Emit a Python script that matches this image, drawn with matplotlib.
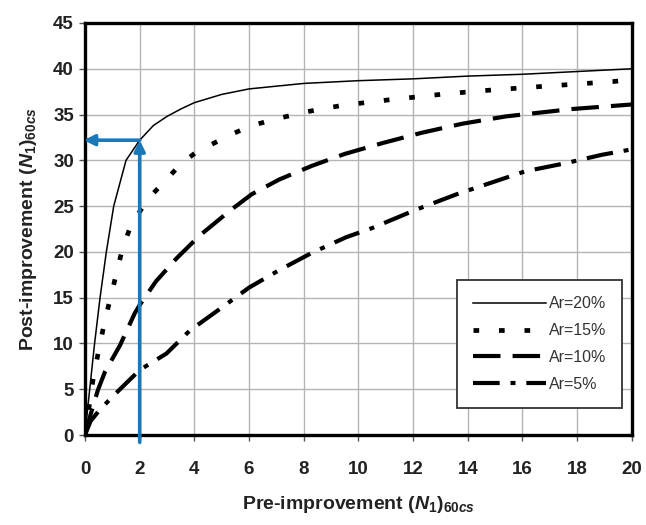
import matplotlib
matplotlib.use("Agg")
import matplotlib.pyplot as plt

plt.rcParams['font.family'] = ['Liberation Sans', 'DejaVu Sans']
plt.rcParams['mathtext.fontset'] = 'custom'
plt.rcParams['mathtext.rm'] = 'Liberation Sans:bold'
plt.rcParams['mathtext.bf'] = 'Liberation Sans:bold'
plt.rcParams['mathtext.it'] = 'Liberation Sans:italic:bold'

# ---- data ----
labels = ["Ar=20%", "Ar=15%", "Ar=10%", "Ar=5%"]

x20 = [0, 0.1, 0.35, 0.55, 0.78, 1.05, 1.5, 2.0, 2.5, 3.0, 3.5, 4.0, 5.0, 6.0, 7.0, 8.0,
       10, 12, 14, 16, 18, 20]
y20 = [0, 3, 10, 15, 20, 25, 30, 32.2, 33.8, 34.8, 35.6, 36.3, 37.2, 37.8, 38.1, 38.4,
       38.7, 38.9, 39.2, 39.4, 39.7, 40.0]

x15 = [0, 0.12, 0.3, 0.55, 0.75, 0.95, 1.34, 1.64, 2.0, 2.37, 2.98, 3.47, 4.07, 4.8, 5.4, 6.1,
       7.1, 8.1, 9.4, 11.1, 13.0, 14.5, 16.85, 19.3, 20]
y15 = [0, 2.5, 6.2, 10, 12.8, 15.2, 20.0, 22.6, 24.4, 26, 27.9, 29.5, 30.9, 32, 32.9, 33.8,
       34.6, 35.3, 36, 36.6, 37.2, 37.6, 38.1, 38.6, 38.8]

x10 = [0, 0.2, 0.47, 0.73, 1.28, 1.82, 2.0, 2.6, 3.35, 4.2, 5.3, 6.1, 7.1, 8.3, 9.5, 10.9,
       12.3, 13.8, 15.4, 17.8, 20]
y10 = [0, 2.2, 4.9, 6.9, 9.8, 13.3, 14.2, 16.8, 19.3, 21.8, 24.5, 26.3, 27.9, 29.4, 30.7, 31.9,
       33.0, 34.0, 34.8, 35.6, 36.1]

x5 = [0, 0.2, 0.55, 1.28, 2.0, 2.98, 3.83, 4.9, 6.0, 7.1, 8.3, 9.55, 10.5, 12.1, 13.6, 14.8,
      16.1, 17.6, 18.9, 20]
y5 = [0, 1.5, 2.8, 5.0, 7.1, 8.9, 11.4, 13.7, 16.1, 18, 19.9, 21.6, 22.6, 24.6, 26.3, 27.5,
      28.8, 29.7, 30.6, 31.2]

arrow_x = 2.0       # pre-improvement value marked
arrow_y = 32.2      # resulting post-improvement value
arrow_y0 = -0.8

xticks = list(range(0, 21, 2))
yticks = list(range(0, 46, 5))

# ---- figure ----
fig = plt.figure(figsize=(6.46, 5.25), dpi=100)
ax = fig.add_axes([0.1316, 0.1714, 0.8464, 0.7848])

ax.set_xlim(0, 20)
ax.set_ylim(0, 45)
ax.set_xticks(xticks)
ax.set_yticks(yticks)
ax.grid(True, color='#b4b4b4', lw=1.0)
ax.set_axisbelow(True)

for s in ax.spines.values():
    s.set_linewidth(2.4)
    s.set_color('black')

ax.tick_params(axis='both', direction='out', length=4.5, width=1.0, labelsize=13.5, color='#555555')
ax.tick_params(axis='y', pad=3.5)
ax.tick_params(axis='x', pad=14)
for t in ax.get_xticklabels() + ax.get_yticklabels():
    t.set_fontweight('bold')
    t.set_color('#222222')

ax.plot(x20, y20, color='black', lw=1.1, label=labels[0])
ax.plot(x15, y15, color='black', lw=3.4, dashes=(1.2, 4.2), dash_capstyle='butt', label=labels[1])
ax.plot(x10, y10, color='black', lw=3.0, dashes=(6.6, 2.9), dash_capstyle='butt', label=labels[2])
ax.plot(x5, y5, color='black', lw=3.0, dashes=(6.4, 2.6, 1.2, 2.6), dash_capstyle='butt', label=labels[3])

blue = '#1b78b8'
ax.annotate('', xy=(arrow_x, arrow_y), xytext=(arrow_x, arrow_y0),
            arrowprops=dict(arrowstyle='-|>', color=blue, lw=2.6, mutation_scale=16,
                            shrinkA=0, shrinkB=0),
            annotation_clip=False, zorder=5)
ax.annotate('', xy=(-0.05, arrow_y), xytext=(arrow_x, arrow_y),
            arrowprops=dict(arrowstyle='-|>', color=blue, lw=2.6, mutation_scale=16,
                            shrinkA=0, shrinkB=0),
            annotation_clip=False, zorder=5)

leg = ax.legend(loc='lower right', bbox_to_anchor=(0.982, 0.0655), borderaxespad=0,
                fontsize=11.5, handlelength=4.6, handletextpad=0.15, borderpad=1.0,
                labelspacing=0.75, fancybox=False, framealpha=1, edgecolor='#333333')
leg.get_frame().set_linewidth(1.3)
for t in leg.get_texts():
    t.set_color('#333333')

ax.set_xlabel(r'Pre-improvement $\mathit{(N_{1})}_{\mathit{60cs}}$', fontsize=14,
              fontweight='bold', color='#222222', labelpad=12)
ax.set_ylabel(r'Post-improvement $\mathit{(N_{1})}_{\mathit{60cs}}$', fontsize=14,
              fontweight='bold', color='#222222', labelpad=10)

fig.savefig('out.png', dpi=100)
